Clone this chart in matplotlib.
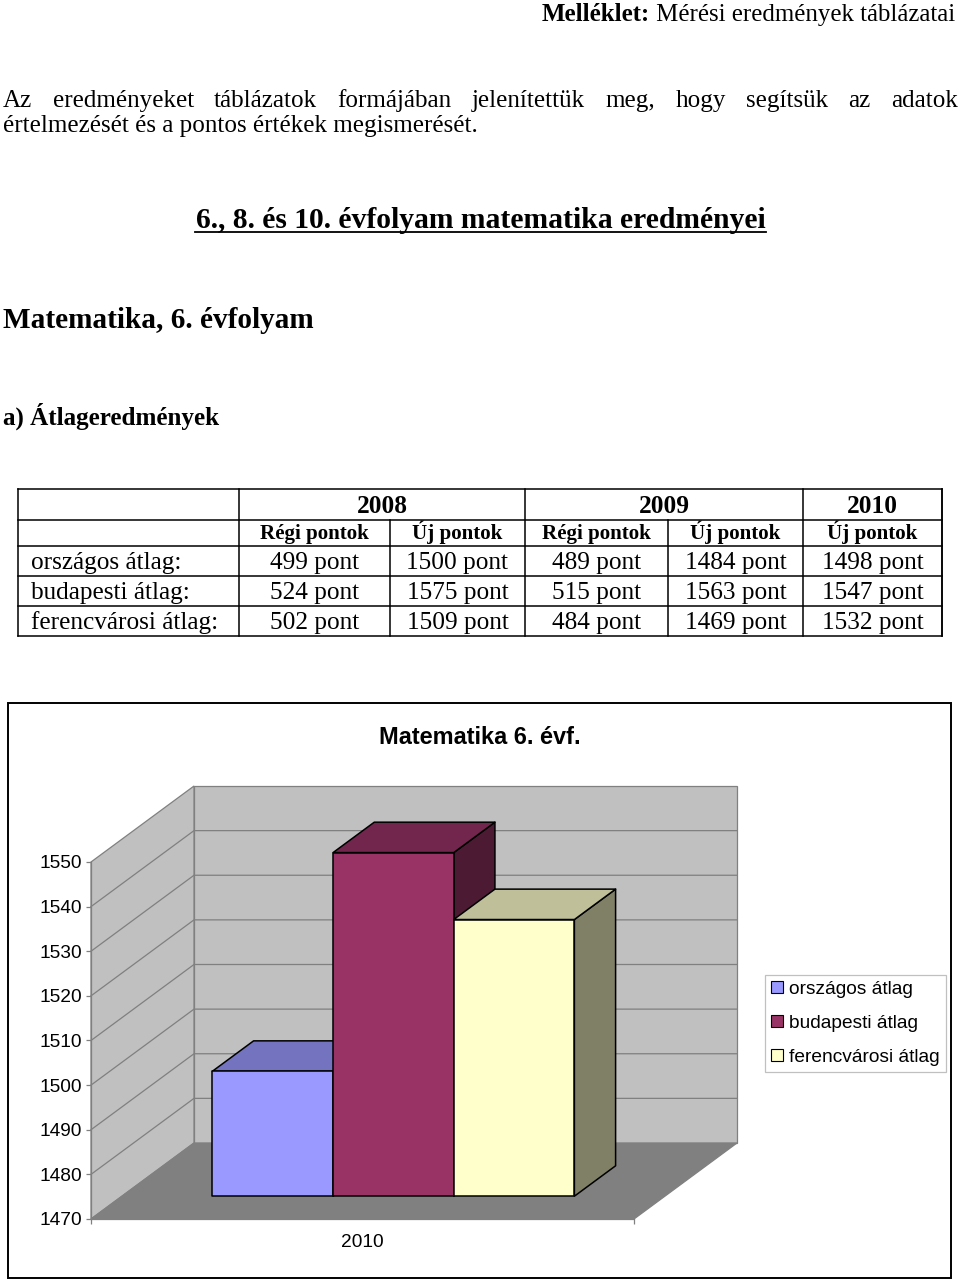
import matplotlib
matplotlib.use("Agg")
import matplotlib.pyplot as plt
from matplotlib.patches import Polygon, Rectangle, Patch
from matplotlib.lines import Line2D

# ---------------- data ----------------
years = ["2008", "2009", "2010"]
year_spans = [2, 2, 1]
subheaders = ["Régi pontok", "Új pontok", "Régi pontok", "Új pontok", "Új pontok"]
row_labels = ["országos átlag:", "budapesti átlag:", "ferencvárosi átlag:"]
orszagos = [499, 1500, 489, 1484, 1498]
budapesti = [524, 1575, 515, 1563, 1547]
ferencvarosi = [502, 1509, 484, 1469, 1532]
table_rows = [orszagos, budapesti, ferencvarosi]

chart_title = "Matematika 6. évf."
chart_categories = ["2010"]
series_names = ["országos átlag", "budapesti átlag", "ferencvárosi átlag"]
series_values = [[orszagos[-1]], [budapesti[-1]], [ferencvarosi[-1]]]
series_colors = ["#9999FF", "#993366", "#FFFFCC"]
y_ticks = [1470, 1480, 1490, 1500, 1510, 1520, 1530, 1540, 1550]

header_bold = "Melléklet:"
header_rest = " Mérési eredmények táblázatai"
para_line1 = "Az eredményeket táblázatok formájában jelenítettük meg, hogy segítsük az adatok"
para_line2 = "értelmezését és a pontos értékek megismerését."
heading = "6., 8. és 10. évfolyam matematika eredményei"
subheading = "Matematika, 6. évfolyam"
section = "a) Átlageredmények"

# ---------------- figure ----------------
W, H = 960, 1281
SERIF = "Liberation Serif"
SANS = "Liberation Sans"
fig = plt.figure(figsize=(W / 100, H / 100), dpi=100)
fig.patch.set_facecolor("white")
renderer = fig.canvas.get_renderer()


def fx(x):
    return x / W


def fy(y):
    return 1 - y / H


def text_width(t):
    return t.get_window_extent(renderer).width


def ftext(x, y, s, width=None, size=18, **kw):
    t = fig.text(fx(x), fy(y), s, fontsize=size, **kw)
    if width is not None:
        t.set_fontsize(size * width / text_width(t))
    return t


def hline(x0, x1, y, lw=1.1, color="black"):
    fig.add_artist(Line2D([fx(x0), fx(x1)], [fy(y), fy(y)], color=color, lw=lw,
                          solid_capstyle="projecting"))


def vline(x, y0, y1, lw=1.1, color="black"):
    fig.add_artist(Line2D([fx(x), fx(x)], [fy(y0), fy(y1)], color=color, lw=lw,
                          solid_capstyle="projecting"))


# ---- header (right aligned) ----
tb = fig.text(0, 0, header_bold, fontsize=18, family=SERIF, fontweight="bold")
tr = fig.text(0, 0, header_rest, fontsize=18, family=SERIF)
scale = 414 / (text_width(tb) + text_width(tr))
tb.set_fontsize(18 * scale)
tr.set_fontsize(18 * scale)
wr = text_width(tr)
tr.set_position((fx(955), fy(21)))
tr.set_ha("right")
tb.set_position((fx(955 - wr), fy(21)))
tb.set_ha("right")

# ---- paragraph ----
t2 = ftext(3, 132, para_line2, width=476, family=SERIF, va="baseline")
body_size = t2.get_fontsize()
words = para_line1.split(" ")
wtexts = [fig.text(0, fy(107), w, fontsize=body_size, family=SERIF, va="baseline") for w in words]
widths = [text_width(t) for t in wtexts]
gap = (958 - 3 - sum(widths)) / (len(words) - 1)
xpos = 3
for t, w in zip(wtexts, widths):
    t.set_x(fx(xpos))
    xpos += w + gap

# ---- headings ----
th = ftext(480.5, 228, heading, width=571, family=SERIF, fontweight="bold",
           ha="center", va="baseline")
hline(195, 766, 232, lw=1.3)
ftext(3, 328, subheading, width=310, family=SERIF, fontweight="bold", va="baseline")
ftext(3, 425, section, width=216, family=SERIF, fontweight="bold", va="baseline")

# ---- table ----
tx_left, tx_label, tx_right = 18, 239, 942
col_edges = [239, 390, 525, 668, 803, 942]
row_y = [489, 520, 546, 576, 606, 636]
for y in row_y:
    hline(tx_left, tx_right, y)
vline(tx_left, row_y[0], row_y[-1])
vline(tx_right, row_y[0], row_y[-1])
edge_idx = 0
year_edges = [col_edges[0]]
for span in year_spans:
    edge_idx += span
    year_edges.append(col_edges[edge_idx])
for x in col_edges:
    if x in year_edges:
        vline(x, row_y[0], row_y[-1])
    else:
        vline(x, row_y[1], row_y[-1])

tmp = fig.text(0, 0, "2008", fontsize=18, family=SERIF, fontweight="bold")
year_size = 18 * 51 / text_width(tmp)
tmp.remove()
tmp = fig.text(0, 0, "Régi pontok", fontsize=18, family=SERIF, fontweight="bold")
sub_size = 18 * 109 / text_width(tmp)
tmp.remove()
tmp = fig.text(0, 0, "499 pont", fontsize=18, family=SERIF)
cell_size = 18 * 89 / text_width(tmp)
tmp.remove()

for i, yr in enumerate(years):
    cx = (year_edges[i] + year_edges[i + 1]) / 2
    fig.text(fx(cx), fy(513), yr, fontsize=year_size, family=SERIF, fontweight="bold",
             ha="center", va="baseline")
for j, sh in enumerate(subheaders):
    cx = (col_edges[j] + col_edges[j + 1]) / 2
    fig.text(fx(cx), fy(539), sh, fontsize=sub_size, family=SERIF, fontweight="bold",
             ha="center", va="baseline")
for r, (lab, vals) in enumerate(zip(row_labels, table_rows)):
    base = 569 + 30 * r
    fig.text(fx(31), fy(base), lab, fontsize=cell_size, family=SERIF, va="baseline")
    for j, v in enumerate(vals):
        cx = (col_edges[j] + col_edges[j + 1]) / 2
        fig.text(fx(cx), fy(base), f"{v} pont", fontsize=cell_size, family=SERIF,
                 ha="center", va="baseline")

# ---------------- chart ----------------
fig.add_artist(Rectangle((fx(8), fy(1278)), (951 - 8) / W, (1278 - 703) / H,
                         transform=fig.transFigure, fill=False, ec="black", lw=1.4))
ttl = ftext(480, 737, chart_title, width=201, family=SANS, fontweight="bold",
            ha="center", va="center")

ax_l, ax_r, ax_b, ax_t = 91, 634, 1219, 862
ax = fig.add_axes([fx(ax_l), fy(ax_b), (ax_r - ax_l) / W, (ax_b - ax_t) / H])
ax.patch.set_visible(False)
ymin, ymax = y_ticks[0], y_ticks[-1]
ncat = len(chart_categories)
ax.set_xlim(-0.5, ncat - 0.5)
ax.set_ylim(ymin, ymax)

# depth projection (full floor depth)
DX = 103 / (ax_r - ax_l) * ncat
DY = 76 / (ax_b - ax_t) * (ymax - ymin)


def proj(x, y, d):
    return (x + d * DX, y + d * DY)


wall_c, floor_c, grid_c = "#C0C0C0", "#808080", "#808080"
x0, x1 = -0.5, ncat - 0.5
back = Polygon([proj(x0, ymin, 1), proj(x1, ymin, 1), proj(x1, ymax, 1), proj(x0, ymax, 1)],
               closed=True, fc=wall_c, ec=grid_c, lw=0.9, clip_on=False, zorder=1)
left = Polygon([proj(x0, ymin, 0), proj(x0, ymin, 1), proj(x0, ymax, 1), proj(x0, ymax, 0)],
               closed=True, fc=wall_c, ec=grid_c, lw=0.9, clip_on=False, zorder=1)
floor = Polygon([proj(x0, ymin, 0), proj(x1, ymin, 0), proj(x1, ymin, 1), proj(x0, ymin, 1)],
                closed=True, fc=floor_c, ec=floor_c, lw=0.9, clip_on=False, zorder=1.5)
for p in (back, left, floor):
    ax.add_patch(p)
for v in y_ticks[1:-1]:
    pts = [proj(x0, v, 0), proj(x0, v, 1), proj(x1, v, 1)]
    ax.plot([p[0] for p in pts], [p[1] for p in pts], color=grid_c, lw=0.9,
            clip_on=False, zorder=1.2)

nser = len(series_values)
bw = 1 / (nser + 1.5)
d0, d1 = 0.3, 0.7


def shade(c, f):
    c = matplotlib.colors.to_rgb(c)
    return tuple(ch * f for ch in c)


z = 3
for ci in range(ncat):
    for si in range(nser):
        v = series_values[si][ci]
        xl = ci - nser * bw / 2 + si * bw
        xr = xl + bw
        col = series_colors[si]
        side = Polygon([proj(xr, ymin, d0), proj(xr, ymin, d1), proj(xr, v, d1), proj(xr, v, d0)],
                       closed=True, fc=shade(col, 0.5), ec="black", lw=1.1, clip_on=False,
                       zorder=z, joinstyle="round")
        top = Polygon([proj(xl, v, d0), proj(xr, v, d0), proj(xr, v, d1), proj(xl, v, d1)],
                      closed=True, fc=shade(col, 0.75), ec="black", lw=1.1, clip_on=False,
                      zorder=z + 0.1, joinstyle="round")
        front = Polygon([proj(xl, ymin, d0), proj(xr, ymin, d0), proj(xr, v, d0), proj(xl, v, d0)],
                        closed=True, fc=col, ec="black", lw=1.1, clip_on=False,
                        zorder=z + 0.2, joinstyle="round")
        for p in (side, top, front):
            ax.add_patch(p)
        z += 1

for s in ("top", "right"):
    ax.spines[s].set_visible(False)
for s in ("left", "bottom"):
    ax.spines[s].set_color(grid_c)
    ax.spines[s].set_linewidth(0.9)
    ax.spines[s].set_zorder(2)

ax.set_yticks(y_ticks)
ax.set_yticklabels([str(t) for t in y_ticks], family=SANS, fontsize=13.8)
ax.tick_params(axis="y", length=3.6, width=0.9, color=grid_c, pad=3)
ax.set_xticks(range(ncat))
ax.set_xticklabels(chart_categories, family=SANS, fontsize=13.8)
ax.set_xticks([c - 0.5 for c in range(ncat + 1)], minor=True)
ax.tick_params(axis="x", which="major", length=0, pad=11)
ax.tick_params(axis="x", which="minor", length=3.6, width=0.9, color=grid_c)

handles = [Patch(fc=c, ec="black", lw=0.8) for c in series_colors]
leg = fig.legend(handles, series_names, loc="upper left",
                 bbox_to_anchor=(fx(765), fy(975)), frameon=True, fancybox=False,
                 edgecolor="#C0C0C0", framealpha=1, borderaxespad=0,
                 prop={"family": SANS, "size": 13.8}, handlelength=0.6, handleheight=0.6,
                 handletextpad=0.32, labelspacing=0.88, borderpad=0.32)
leg.get_frame().set_linewidth(0.9)

fig.savefig("out.png", dpi=100, facecolor="white")
